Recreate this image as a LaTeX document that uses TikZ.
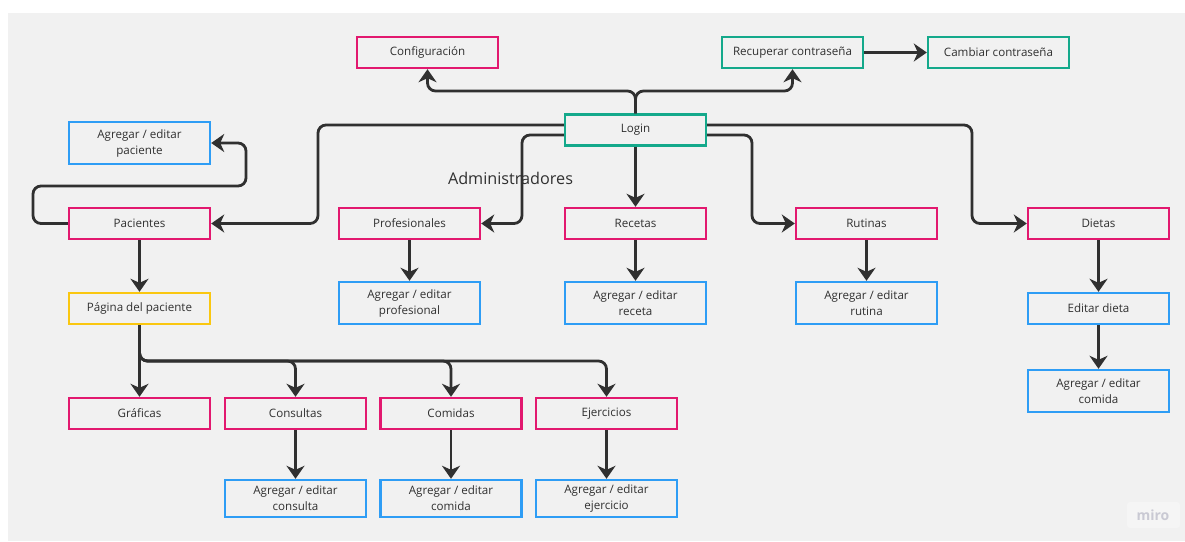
\documentclass[tikz,border=0pt]{standalone}
\usepackage{fontspec}
\setmainfont{Open Sans}
\usetikzlibrary{arrows.meta}
\definecolor{bgc}{HTML}{F1F1F1}
\definecolor{ink}{HTML}{303030}
\definecolor{pinkc}{HTML}{E2186F}
\definecolor{greenc}{HTML}{14A98B}
\definecolor{bluec}{HTML}{2E9DF5}
\definecolor{yellowc}{HTML}{FAC710}
\definecolor{wmark}{HTML}{C9C9D3}
\tikzset{
  box/.style={draw, line width=2.4pt, minimum width=141pt, minimum height=31pt,
    inner sep=0pt, align=center, text=ink, font=\fontsize{11.6}{16}\selectfont},
  pinkbox/.style={box, draw=pinkc},
  greenbox/.style={box, draw=greenc},
  yellowbox/.style={box, draw=yellowc},
  bluebox/.style={box, draw=bluec, minimum height=42pt},
  bluelow/.style={box, draw=bluec, minimum height=37pt},
  arr/.style={draw=ink, line width=2.8pt, rounded corners=8pt,
    -{Stealth[length=13pt, width=18pt, inset=4pt]}},
}
\begin{document}
\begin{tikzpicture}[x=1pt, y=-1pt]
\useasboundingbox (0,0) rectangle (1185,541);
\fill[white] (0,0) rectangle (1185,541);
\fill[bgc] (8,13) rectangle (1185,541);

% top row
\node[pinkbox]  (config) at (427.5,52.5) {Configuración};
\node[greenbox] (recup)  at (792.5,52.5) {Recuperar contraseña};
\node[greenbox] (camb)   at (998.5,52.5) {Cambiar contraseña};
\node[greenbox] (login)  at (635.5,130)  {Login};

% patient side
\node[bluebox]  (agpac)  at (139.5,143)   {Agregar / editar\\paciente};
\node[pinkbox]  (pac)    at (139.5,223.5) {Pacientes};
\node[yellowbox](pag)    at (139.5,308.5) {Página del paciente};

% main sections
\node[pinkbox]  (prof)   at (409.5,223.5)  {Profesionales};
\node[pinkbox]  (rec)    at (635.5,223.5)  {Recetas};
\node[pinkbox]  (rut)    at (866.5,223.5)  {Rutinas};
\node[pinkbox]  (diet)   at (1098.5,223.5) {Dietas};

\node[bluebox]  (agprof) at (409.5,303)  {Agregar / editar\\profesional};
\node[bluebox]  (agrec)  at (635.5,303)  {Agregar / editar\\receta};
\node[bluebox]  (agrut)  at (866.5,303)  {Agregar / editar\\rutina};
\node[bluebox, minimum height=31pt] (edd) at (1098.5,308.5) {Editar dieta};
\node[bluebox]  (agcomd) at (1098.5,391)  {Agregar / editar\\comida};

% patient page sections
\node[pinkbox]  (graf)   at (139.5,413.5) {Gráficas};
\node[pinkbox]  (cons)   at (295.5,413.5) {Consultas};
\node[pinkbox]  (com)    at (451,413.5)   {Comidas};
\node[pinkbox]  (ejer)   at (606.5,413.5) {Ejercicios};

\node[bluelow]  (agcons) at (295.5,498.5) {Agregar / editar\\consulta};
\node[bluelow]  (agcom)  at (451,498.5)   {Agregar / editar\\comida};
\node[bluelow]  (agejer) at (606.5,498.5) {Agregar / editar\\ejercicio};

\node[text=ink, font=\fontsize{16.2}{18}\selectfont] (adm) at (510.5,178) {Administradores};

% watermark
\fill[white, opacity=0.3, rounded corners=3pt] (1127,502) rectangle (1180,528);
\node[text=wmark, font=\fontsize{14}{16}\selectfont\bfseries] (miro) at (1153,515) {miro};

% connectors from Login
\draw[arr] (login.north) -- (635.5,91) -| (config.south);
\draw[arr] (login.north) -- (635.5,91) -| (recup.south);
\draw[arr] (recup.east) -- (camb.west);
\draw[arr] ([yshift=5pt]login.west) -| (318,223.5) -- (pac.east);
\draw[arr] ([yshift=-5pt]login.west) -| (522,223.5) -- (prof.east);
\draw[arr] (login.south) -- (rec.north);
\draw[arr] ([yshift=-5pt]login.east) -| (752,223.5) -- (rut.west);
\draw[arr] ([yshift=5pt]login.east) -| (972,223.5) -- (diet.west);

% patients
\draw[arr] (pac.west) -| (33,186) -| (246,143) -- (agpac.east);
\draw[arr] (pac.south) -- (pag.north);
\draw[arr] (pag.south) -- (graf.north);
\draw[arr] (pag.south) -- (139.5,361) -| (cons.north);
\draw[arr] (pag.south) -- (139.5,361) -| (com.north);
\draw[arr] (pag.south) -- (139.5,361) -| (ejer.north);
\draw[arr] (cons.south) -- (agcons.north);
\draw[arr] (com.south) -- (agcom.north);
\draw[arr] (ejer.south) -- (agejer.north);

% sections
\draw[arr] (prof.south) -- (agprof.north);
\draw[arr] (rec.south) -- (agrec.north);
\draw[arr] (rut.south) -- (agrut.north);
\draw[arr] (diet.south) -- (edd.north);
\draw[arr] (edd.south) -- (agcomd.north);
\end{tikzpicture}
\end{document}
